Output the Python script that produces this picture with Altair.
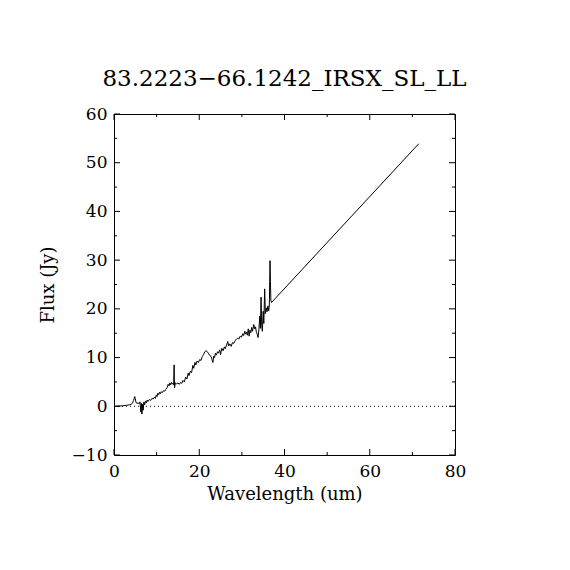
import altair as alt
import pandas as pd

TITLE = "83.2223\u221266.1242_IRSX_SL_LL"
X_TITLE = "Wavelength (um)"
Y_TITLE = "Flux (Jy)"

wavelength = [
    0.2, 1.0, 2.0, 3.0, 3.6, 4.0, 4.3, 4.6, 4.85, 5.0, 5.15, 5.4, 5.7, 5.9, 6.1,
    6.3, 6.45, 6.55, 6.7, 6.85, 7.0, 7.2, 7.4, 7.6, 7.8, 8.0, 8.3, 8.6, 8.9, 9.2,
    9.5, 9.7, 9.9, 10.1, 10.3, 10.5, 10.7, 10.9, 11.1, 11.3, 11.6, 11.9, 12.2,
    12.5, 12.7, 12.9, 13.1, 13.3, 13.5, 13.7, 13.9, 14.0, 14.1, 14.2, 14.4, 14.7,
    15.0, 15.3, 15.6, 15.9, 16.2, 16.5, 16.8, 17.1, 17.4, 17.6, 17.9, 18.2, 18.5,
    18.7, 19.0, 19.2, 19.5, 19.8, 20.1, 20.4, 20.7, 21.0, 21.3, 21.6, 21.9, 22.2,
    22.5, 22.8, 23.0, 23.2, 23.4, 23.6, 23.8, 24.0, 24.3, 24.5, 24.8, 25.0, 25.3,
    25.6, 25.9, 26.1, 26.4, 26.7, 26.9, 27.2, 27.5, 27.8, 28.1, 28.4, 28.7, 29.0,
    29.3, 29.6, 29.9, 30.2, 30.4, 30.7, 30.9, 31.1, 31.3, 31.5, 31.7, 31.9, 32.1,
    32.3, 32.5, 32.8, 33.0, 33.2, 33.4, 33.6, 33.8, 34.0, 34.2, 34.35, 34.5,
    34.65, 34.8, 35.0, 35.15, 35.35, 35.5, 35.7, 35.9, 36.1, 36.3, 36.45, 36.6,
    36.7, 36.8, 36.95, 71.5,
]
flux = [
    0.0, 0.05, 0.1, 0.2, 0.3, 0.4, 0.6, 1.2, 2.0, 1.6, 0.8, 0.6, 0.7, 0.5, 0.9,
    -1.2, 0.6, -1.6, 0.4, -0.8, 0.9, 0.3, 1.1, 0.7, 1.3, 1.0, 1.4, 1.2, 1.6, 1.5,
    1.9, 1.6, 2.3, 2.0, 2.7, 2.4, 2.9, 2.6, 3.0, 2.8, 3.2, 3.1, 3.5,
    3.9, 4.5, 4.2, 4.8, 4.4, 4.9, 4.6, 4.7, 4.4, 8.5, 3.8, 4.8, 4.6,
    4.8, 4.5, 4.9, 4.7, 5.3, 5.0, 6.0, 5.6, 6.8, 6.3, 7.2, 6.9, 8.4,
    7.8, 9.0, 8.5, 9.3, 9.0, 9.6, 9.4, 10.2, 10.6, 11.2, 11.4, 11.2, 10.8,
    10.4, 10.2, 9.6, 9.0, 10.3, 10.0, 10.9, 10.5, 11.2, 10.9, 11.6, 10.6, 11.9,
    11.4, 12.2, 11.8, 12.6, 13.3, 12.4, 12.8, 12.3, 13.1, 12.9, 13.5, 13.7, 14.0,
    13.8, 14.4, 14.2, 14.9, 14.5, 15.4, 14.8, 15.2, 14.6, 15.9, 14.4, 15.6, 15.1,
    16.2, 15.4, 16.8, 15.9, 16.3, 15.2, 14.8, 14.1, 15.8, 18.5, 16.0, 22.4,
    16.6, 15.4, 19.5, 17.0, 24.1, 19.0, 20.2, 19.4, 20.6, 19.6, 20.8, 29.9,
    25.6, 21.8, 21.3, 53.9,
]

x_major = [0, 20, 40, 60, 80]
x_minor = [10, 30, 50, 70]
y_major = [-10, 0, 10, 20, 30, 40, 50, 60]
y_minor = [-5, 5, 15, 25, 35, 45, 55]
zero_level = [0]

W, H = 341, 341
MAJ, MIN = 6, 3
FONT = "DejaVu Serif"

xs = alt.Scale(domain=[0, 80], nice=False, zero=False)
ys = alt.Scale(domain=[-10, 60], nice=False, zero=False)

x_axis = alt.Axis(
    values=x_major, ticks=False, domain=False, grid=False,
    labelFont=FONT, labelFontSize=17, labelColor="black", labelPadding=8,
    labelFlush=False,
    titleFont=FONT, titleFontSize=18, titleFontWeight="normal",
    titleColor="black", titlePadding=6)
y_axis = alt.Axis(
    values=y_major, ticks=False, domain=False, grid=False,
    labelFont=FONT, labelFontSize=17, labelColor="black", labelPadding=7,
    labelFlush=False,
    titleFont=FONT, titleFontSize=18, titleFontWeight="normal",
    titleColor="black", titlePadding=14)


def X(field):
    return alt.X(field, scale=xs, axis=x_axis, title=X_TITLE)


def Y(field):
    return alt.Y(field, scale=ys, axis=y_axis, title=Y_TITLE)


spec = pd.DataFrame({"wl": wavelength, "flux": flux})

line = alt.Chart(spec).mark_line(color="black", strokeWidth=1).encode(
    x=X("wl:Q"), y=Y("flux:Q"),
)

zero = alt.Chart(pd.DataFrame({"y": zero_level})).mark_rule(
    color="black", strokeWidth=1, strokeDash=[1, 3]
).encode(y=Y("y:Q"))


def xticks(vals, ln):
    b = alt.Chart(pd.DataFrame({"v": vals})).mark_rule(color="black", strokeWidth=1)
    return [
        b.encode(x=X("v:Q"), y=alt.value(H), y2=alt.value(H - ln)),
        b.encode(x=X("v:Q"), y=alt.value(0), y2=alt.value(ln)),
    ]


def yticks(vals, ln):
    b = alt.Chart(pd.DataFrame({"v": vals})).mark_rule(color="black", strokeWidth=1)
    return [
        b.encode(y=Y("v:Q"), x=alt.value(0), x2=alt.value(ln)),
        b.encode(y=Y("v:Q"), x=alt.value(W), x2=alt.value(W - ln)),
    ]


layers = [line, zero] + xticks(x_major, MAJ) + xticks(x_minor, MIN) + yticks(y_major, MAJ) + yticks(y_minor, MIN)

chart = alt.layer(*layers).properties(
    width=W, height=H,
    title=alt.TitleParams(TITLE, font=FONT, fontSize=23, fontWeight="normal",
                          color="black", anchor="middle", offset=-4, baseline="alphabetic"),
    autosize=alt.AutoSizeParams(type="none"),
    padding={"left": 106, "top": 106, "right": 100, "bottom": 100},
    background="white",
).configure_view(stroke="black", strokeWidth=1)

chart.save("out.html", embed_options={"renderer": "svg", "actions": False})
